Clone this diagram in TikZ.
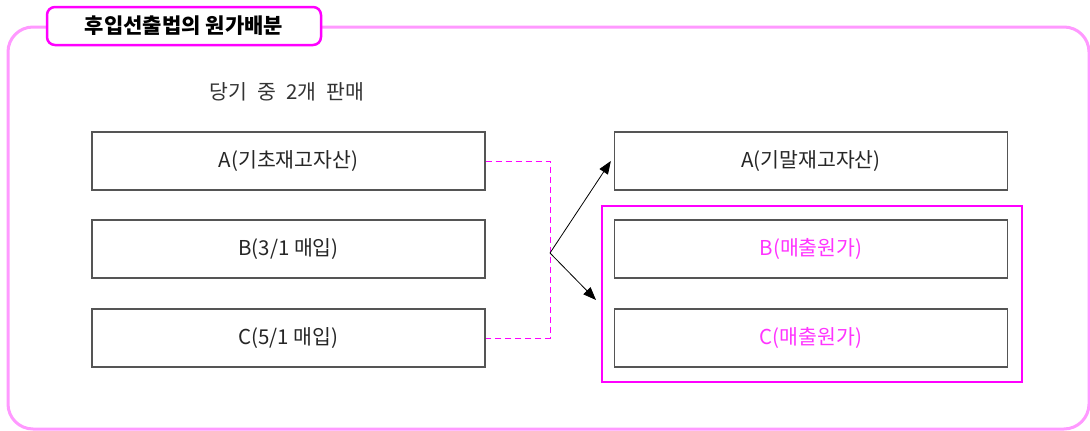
\documentclass[tikz,border=0pt]{standalone}
\usepackage{fontspec}
\setmainfont{Noto Sans CJK KR}
\usetikzlibrary{arrows.meta}
\definecolor{framepink}{HTML}{FF99FF}
\definecolor{hotpink}{HTML}{FF00FF}
\definecolor{boxgray}{HTML}{555555}
\tikzset{
  acct/.style={draw=boxgray, line width=1.3pt, minimum width=393pt, minimum height=58pt, font=\fontsize{20.5}{24}\selectfont, text=black!85},
  flow/.style={-{Triangle[length=13pt,width=10pt]}, line width=0.8pt},
  link/.style={hotpink, dashed, dash pattern=on 6pt off 4pt, line width=1pt}
}
\begin{document}
\begin{tikzpicture}[x=1pt,y=-1pt]
\useasboundingbox (0,0) rectangle (1090,431);
\draw[framepink, line width=3pt, rounded corners=25pt] (8,27) rectangle (1089,429);
\node[draw=hotpink, fill=white, line width=2.5pt, rounded corners=8pt, minimum width=274pt, minimum height=38pt, font=\fontsize{21}{24}\selectfont\bfseries] (title) at (184,26) {후입선출법의 원가배분};
\node[font=\fontsize{20.5}{24}\selectfont, text=black!80] (sold) at (287,92) {당기\hspace{10pt}중\hspace{10pt}2개\hspace{10pt}판매};
\node[acct] (la) at (288.5,161) {A(기초재고자산)};
\node[acct] (lb) at (288.5,249) {B(3/1 매입)};
\node[acct] (lc) at (288.5,338) {C(5/1 매입)};
\node[acct] (ra) at (811,161) {A(기말재고자산)};
\node[acct, text=hotpink!80] (rb) at (811,249) {B(매출원가)};
\node[acct, text=hotpink!80] (rc) at (811,338) {C(매출원가)};
\node[draw=hotpink, line width=2pt, minimum width=420pt, minimum height=176pt] (cost) at (812,294) {};
\coordinate (j) at (550,253);
\draw[link] (la.east) -| (j) |- (lc.east);
\draw[flow] (j) -- ([xshift=-3pt]ra.west);
\draw[flow] (j) -- (596,300);
\end{tikzpicture}
\end{document}
